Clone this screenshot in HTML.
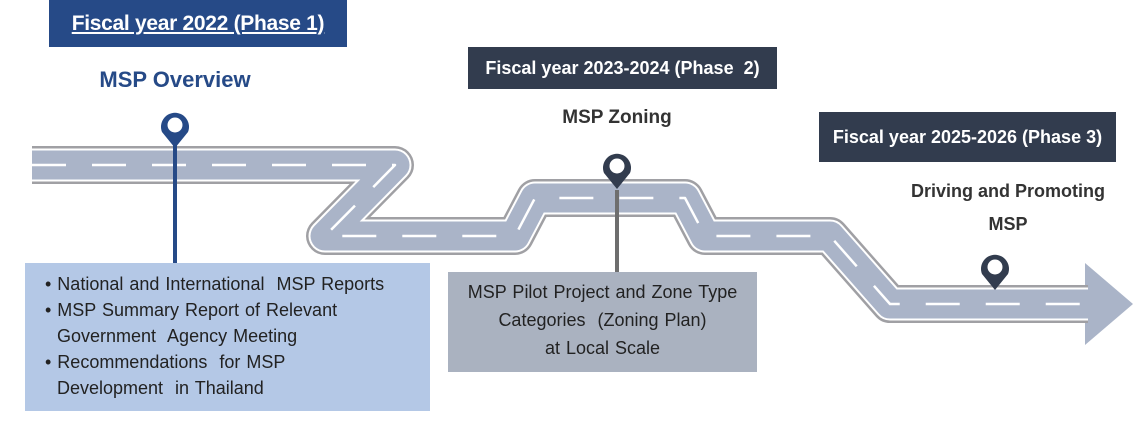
<!DOCTYPE html>
<html><head><meta charset="utf-8"><style>
body{margin:0;width:1148px;height:422px;background:#fff;position:relative;overflow:hidden;font-family:"Liberation Sans",sans-serif}
.b{position:absolute;color:#fff;font-weight:bold;display:flex;align-items:center;justify-content:center}
.t{position:absolute;font-weight:bold;text-align:center}
</style></head><body>
<svg width="1148" height="422" style="position:absolute;left:0;top:0">
<polygon points="1085,263 1133,304 1085,345" fill="#aab4c8"/>
<g fill="none" stroke-linejoin="round" stroke-linecap="butt">
<path d="M32,165 L395,165 L325,236 L515,236 L535,198 L685,198 L705,236 L830,236 L890,304 L1088,304" stroke="#a0a0a4" stroke-width="38"/>
<path d="M32,165 L395,165 L325,236 L515,236 L535,198 L685,198 L705,236 L830,236 L890,304 L1088,304" stroke="#fff" stroke-width="33"/>
<path d="M32,165 L395,165 L325,236 L515,236 L535,198 L685,198 L705,236 L830,236 L890,304 L1088,304" stroke="#aab4c8" stroke-width="29"/>
<path d="M32,165 L395,165 L325,236 L515,236 L535,198 L685,198 L705,236 L830,236 L890,304 L1088,304" stroke="#fff" stroke-width="2.5" stroke-dasharray="34,26"/>
</g>
<line x1="175" y1="145" x2="175" y2="265" stroke="#264a87" stroke-width="4"/>
<line x1="617" y1="190" x2="617" y2="273" stroke="#6e6e6e" stroke-width="4"/>
<g>
<path d="M175,148 L162,132 A14,14 0 1 1 188,132 Z" fill="#264a87"/><circle cx="175" cy="125" r="7.5" fill="#fff"/>
<path d="M617,189 L604,173 A14,14 0 1 1 630,173 Z" fill="#323c4e"/><circle cx="617" cy="166" r="7.5" fill="#fff"/>
<path d="M995,290 L982,274 A14,14 0 1 1 1008,274 Z" fill="#323c4e"/><circle cx="995" cy="267" r="7.5" fill="#fff"/>
</g>
</svg>
<div class="b" style="left:49px;top:0;width:298px;height:47px;background:#264a87;font-size:21px;letter-spacing:-0.3px;text-decoration:underline">Fiscal year 2022 (Phase 1)</div>
<div class="b" style="left:468px;top:47px;width:309px;height:42px;background:#323c4e;font-size:18px">Fiscal year 2023-2024 (Phase&nbsp; 2)</div>
<div class="b" style="left:819px;top:112px;width:297px;height:50px;background:#323c4e;font-size:18px">Fiscal year 2025-2026 (Phase 3)</div>
<div class="t" style="left:70px;top:67px;width:210px;font-size:22px;color:#264a87">MSP Overview</div>
<div class="t" style="left:517px;top:107px;width:200px;font-size:19px;color:#333">MSP Zoning</div>
<div class="t" style="left:860px;top:175px;width:296px;font-size:18px;color:#333;line-height:33px">Driving and Promoting<br>MSP</div>
<div style="position:absolute;left:25px;top:263px;width:405px;height:148px;background:#b4c8e6;color:#222;font-size:18px;line-height:26px;padding-top:8px;box-sizing:border-box;word-spacing:1px">
<div style="padding-left:32px;text-indent:-12px">• National and International&nbsp; MSP Reports</div>
<div style="padding-left:32px;text-indent:-12px">• MSP Summary Report of Relevant<br>Government&nbsp; Agency Meeting</div>
<div style="padding-left:32px;text-indent:-12px">• Recommendations&nbsp; for MSP<br>Development&nbsp; in Thailand</div>
</div>
<div style="position:absolute;left:448px;top:272px;width:309px;height:100px;background:#aab2c0;color:#222;font-size:18px;line-height:28px;text-align:center;padding-top:6px;box-sizing:border-box;word-spacing:1px">MSP Pilot Project and Zone Type<br>Categories&nbsp; (Zoning Plan)<br>at Local Scale</div>
</body></html>
